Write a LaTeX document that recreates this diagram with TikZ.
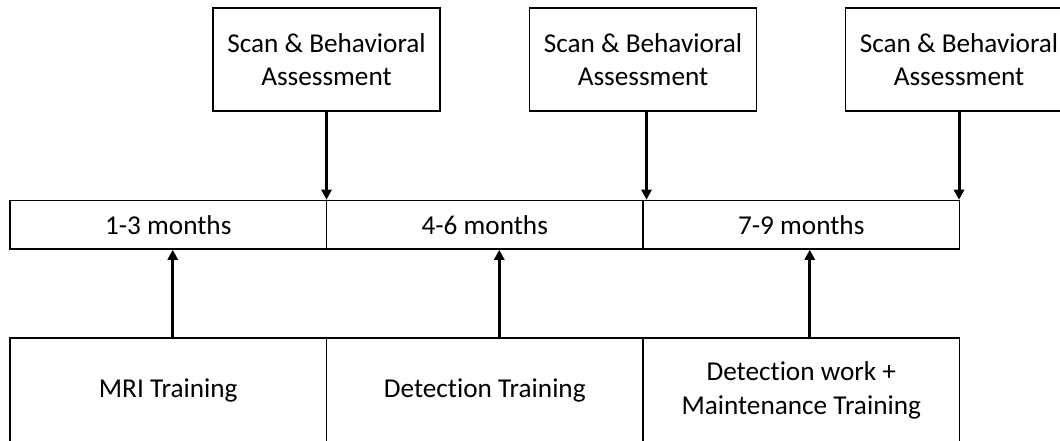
\documentclass[tikz,border=0pt]{standalone}
\usepackage{fontspec}
\setmainfont{Carlito}[Ligatures={NoCommon}]
\usepackage{tikz}
\usetikzlibrary{positioning,arrows.meta}

\begin{document}
\begin{tikzpicture}[
  box/.style={
    rectangle, draw=black, line width=0.85pt, minimum width=4.54cm, minimum height=2.06cm,
    align=center, font=\fontsize{15.5}{19}\selectfont, inner sep=0pt
  },
  cell/.style={
    rectangle, draw=black, line width=0.85pt, minimum width=6.33cm, minimum height=0.97cm,
    font=\fontsize{15.5}{19}\selectfont, inner sep=0pt
  },
  stagebox/.style={
    cell, minimum height=2.1cm, align=center
  },
  arrowdown/.style={-{Triangle[length=5.8pt, width=5.8pt]}, line width=1.7pt, black},
  arrowup/.style={-{Triangle[length=5.8pt, width=5.8pt]}, line width=1.7pt, black}
]

% === Frame ===
\clip (0,0) rectangle (21.2,8.8);

% === Assessment boxes ===
\node[box] (scan1) at (6.53, 7.61) {Scan \& Behavioral\\Assessment};
\node[box] (scan2) at (12.86, 7.61) {Scan \& Behavioral\\Assessment};
\node[box] (scan3) at (19.18, 7.61) {Scan \& Behavioral\\Assessment};

% === Timeline ===
\node[cell] (m1) at (3.365, 4.305) {1-3 months};
\node[cell] (m2) at (9.695, 4.305) {4-6 months};
\node[cell] (m3) at (16.025, 4.305) {7-9 months};

% === Training boxes ===
\node[stagebox] (mri) at (3.365, 0.99) {MRI Training};
\node[stagebox] (det) at (9.695, 0.99) {Detection Training};
\node[stagebox] (maint) at (16.025, 0.99) {Detection work +\\Maintenance Training};

% === Assessment arrows ===
\draw[arrowdown] (scan1.south) -- (scan1.south |- m1.north);
\draw[arrowdown] ([xshift=0.07cm]scan2.south) -- ([xshift=0.07cm]scan2.south |- m2.north);
\draw[arrowdown] (scan3.south) -- (scan3.south |- m3.north);

% === Training arrows ===
\draw[arrowup] ([xshift=0.09cm]mri.north) -- ([xshift=0.09cm]mri.north |- m1.south);
\draw[arrowup] ([xshift=0.29cm]det.north) -- ([xshift=0.29cm]det.north |- m2.south);
\draw[arrowup] ([xshift=0.17cm]maint.north) -- ([xshift=0.17cm]maint.north |- m3.south);

\end{tikzpicture}
\end{document}
